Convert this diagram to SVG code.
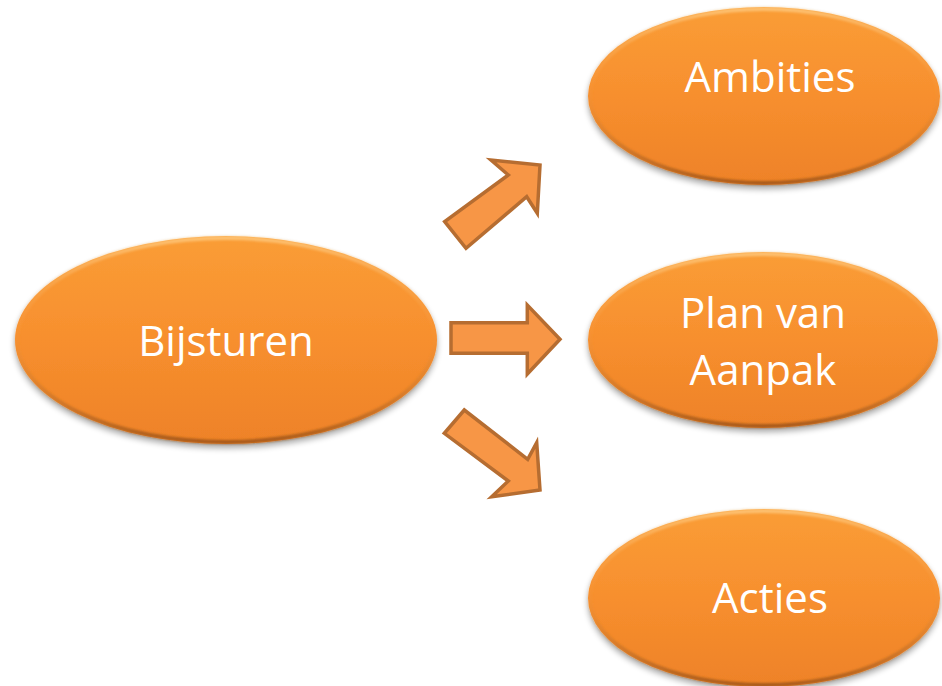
<svg xmlns="http://www.w3.org/2000/svg" width="942" height="686" viewBox="0 0 942 686">
  <defs>
    <linearGradient id="fillG" x1="0" y1="0" x2="0" y2="1">
      <stop offset="0" stop-color="#FA9D36"/>
      <stop offset="0.5" stop-color="#F78F2E"/>
      <stop offset="1" stop-color="#EE8228"/>
    </linearGradient>
    <linearGradient id="rimG" x1="0" y1="0" x2="0" y2="1">
      <stop offset="0" stop-color="#FFD08A" stop-opacity="0.7"/>
      <stop offset="0.45" stop-color="#F59A40" stop-opacity="0.2"/>
      <stop offset="1" stop-color="#9C5418" stop-opacity="0.85"/>
    </linearGradient>
    <filter id="shadow" x="-10%" y="-10%" width="120%" height="130%">
      <feGaussianBlur in="SourceAlpha" stdDeviation="3"/>
      <feOffset dx="0" dy="4" result="b"/>
      <feComponentTransfer><feFuncA type="linear" slope="0.35"/></feComponentTransfer>
      <feMerge><feMergeNode/><feMergeNode in="SourceGraphic"/></feMerge>
    </filter>
    <filter id="soft" x="-5%" y="-5%" width="110%" height="110%">
      <feGaussianBlur stdDeviation="1.2"/>
    </filter>
  </defs>
  <style>
    .node-body { fill: url(#fillG); filter: url(#shadow); }
    .node-rim { fill: none; stroke: url(#rimG); stroke-width: 4; filter: url(#soft); }
    .label { font-family: "Open Sans", "Liberation Sans", sans-serif; font-size: 42px; fill: #FFFFFF; text-anchor: middle; }
    .arrow { fill: #F79646; stroke: #B66D31; stroke-width: 3.5; stroke-linejoin: miter; }
  </style>
  <rect width="942" height="686" fill="#FFFFFF"/>

  <g id="connectors">
    <polygon class="arrow" points="444.7,221.7 466,248.3 526.7,196.7 537.3,213.3 540,165 491,160 508.3,175"/>
    <polygon class="arrow" points="451,322.7 527.3,322.7 527.3,305 560,339.3 527.3,374 527.3,353.3 451,353.3"/>
    <polygon class="arrow" points="464.3,410 444.3,433.3 508.3,481 491.7,496.7 540,490 536.7,442.7 527.7,459.3"/>
  </g>

  <g id="bijsturen">
    <ellipse class="node-body" cx="226" cy="340" rx="211" ry="104"/>
    <ellipse class="node-rim" cx="226" cy="340" rx="209" ry="102"/>
    <text class="label" x="226" y="356">Bijsturen</text>
  </g>

  <g id="ambities">
    <ellipse class="node-body" cx="764" cy="96" rx="176" ry="89"/>
    <ellipse class="node-rim" cx="764" cy="96" rx="174" ry="87"/>
    <text class="label" x="770" y="92">Ambities</text>
  </g>

  <g id="plan-van-aanpak">
    <ellipse class="node-body" cx="763" cy="340" rx="175" ry="88"/>
    <ellipse class="node-rim" cx="763" cy="340" rx="173" ry="86"/>
    <text class="label" x="763" y="328">Plan van</text>
    <text class="label" x="763" y="385">Aanpak</text>
  </g>

  <g id="acties">
    <ellipse class="node-body" cx="764" cy="598" rx="176" ry="89"/>
    <ellipse class="node-rim" cx="764" cy="598" rx="174" ry="87"/>
    <text class="label" x="770" y="613">Acties</text>
  </g>
</svg>
